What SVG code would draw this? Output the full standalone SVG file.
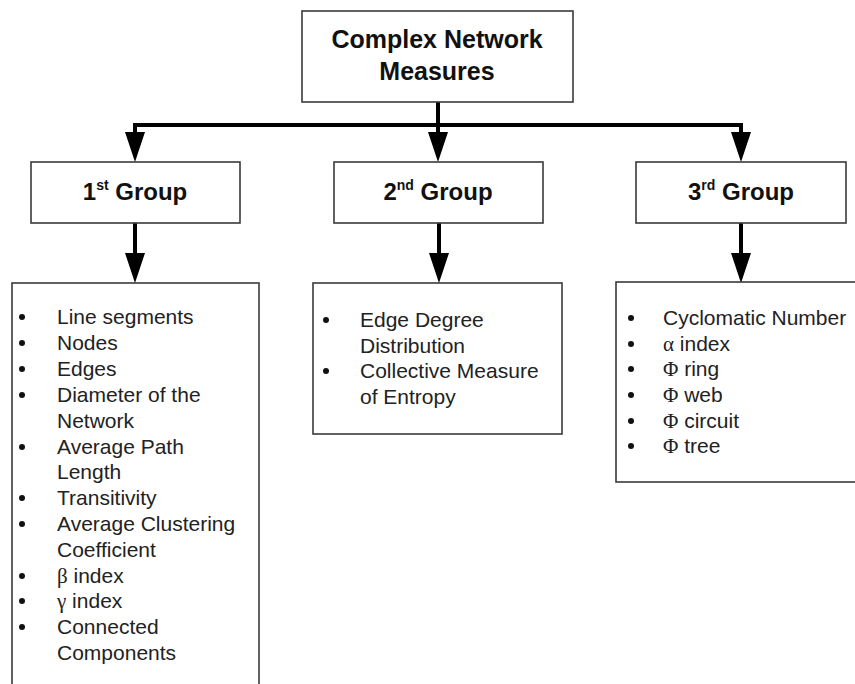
<svg xmlns="http://www.w3.org/2000/svg" width="855" height="684" viewBox="0 0 855 684">
  <style>
    .box { fill: #ffffff; stroke: #3a3a3a; stroke-width: 1.6; }
    .shadow { fill: none; stroke: #9a9a9a; stroke-width: 1.2; }
    .title { font-family: "Liberation Sans", Arial, sans-serif; font-weight: bold; font-size: 25px; fill: #111; text-anchor: middle; }
    .grp { font-family: "Liberation Sans", Arial, sans-serif; font-weight: bold; font-size: 24px; fill: #111; text-anchor: middle; }
    .sup { font-size: 14px; }
    .item { font-family: "Liberation Sans", Arial, sans-serif; font-size: 21px; fill: #222; }
    .bul { fill: #111; }
    .conn { fill: none; stroke: #000; stroke-width: 4; }
  </style>
  <defs>
    <marker id="ah" markerUnits="userSpaceOnUse" markerWidth="32" markerHeight="24" refX="0" refY="10" orient="auto" viewBox="0 0 32 20">
      <path d="M0,0 L30,10 L0,20 z" fill="#000"/>
    </marker>
  </defs>

  <rect width="855" height="684" fill="#ffffff"/>

  <g id="connectors">
    <path class="conn" d="M438,102 L438,125"/>
    <path class="conn" d="M133,125 L743,125"/>
    <path class="conn" d="M135,123 L135,132" marker-end="url(#ah)"/>
    <path class="conn" d="M438,123 L438,132" marker-end="url(#ah)"/>
    <path class="conn" d="M741,123 L741,132" marker-end="url(#ah)"/>
    <path class="conn" d="M135,223 L135,253" marker-end="url(#ah)"/>
    <path class="conn" d="M439,223 L439,253" marker-end="url(#ah)"/>
    <path class="conn" d="M741,223 L741,253" marker-end="url(#ah)"/>
  </g>

  <g id="root">
    <rect class="box" x="302" y="11" width="271" height="91"/>
    <text class="title" x="437" y="48">Complex Network</text>
    <text class="title" x="437" y="80">Measures</text>
  </g>

  <g id="group1">
    <rect class="box" x="31" y="162" width="209" height="61"/>
    <text class="grp" x="135" y="200">1<tspan class="sup" dy="-10">st</tspan><tspan dy="10"> Group</tspan></text>
  </g>

  <g id="group2">
    <rect class="box" x="334" y="162" width="209" height="61"/>
    <text class="grp" x="438" y="200">2<tspan class="sup" dy="-10">nd</tspan><tspan dy="10"> Group</tspan></text>
  </g>

  <g id="group3">
    <rect class="box" x="636" y="162" width="210" height="61"/>
    <text class="grp" x="741" y="200">3<tspan class="sup" dy="-10">rd</tspan><tspan dy="10"> Group</tspan></text>
  </g>

  <g id="list1">
    <rect class="box" x="12" y="283" width="247" height="420"/>
    <g class="bul">
      <circle cx="22" cy="317" r="3"/>
      <circle cx="22" cy="343" r="3"/>
      <circle cx="22" cy="369" r="3"/>
      <circle cx="22" cy="395" r="3"/>
      <circle cx="22" cy="447" r="3"/>
      <circle cx="22" cy="498" r="3"/>
      <circle cx="22" cy="524" r="3"/>
      <circle cx="22" cy="576" r="3"/>
      <circle cx="22" cy="601" r="3"/>
      <circle cx="22" cy="627" r="3"/>
    </g>
    <text class="item" x="57" y="324">Line segments</text>
    <text class="item" x="57" y="350">Nodes</text>
    <text class="item" x="57" y="376">Edges</text>
    <text class="item" x="57" y="402">Diameter of the</text>
    <text class="item" x="57" y="428">Network</text>
    <text class="item" x="57" y="454">Average Path</text>
    <text class="item" x="57" y="479">Length</text>
    <text class="item" x="57" y="505">Transitivity</text>
    <text class="item" x="57" y="531">Average Clustering</text>
    <text class="item" x="57" y="557">Coefficient</text>
    <text class="item" x="57" y="583"><tspan font-family="'Liberation Serif', serif">β</tspan> index</text>
    <text class="item" x="57" y="608"><tspan font-family="'Liberation Serif', serif">γ</tspan> index</text>
    <text class="item" x="57" y="634">Connected</text>
    <text class="item" x="57" y="660">Components</text>
  </g>

  <g id="list2">
    <rect class="box" x="313" y="283" width="249" height="151"/>
    <g class="bul">
      <circle cx="326" cy="320" r="3"/>
      <circle cx="326" cy="371" r="3"/>
    </g>
    <text class="item" x="360" y="327">Edge Degree</text>
    <text class="item" x="360" y="353">Distribution</text>
    <text class="item" x="360" y="378">Collective Measure</text>
    <text class="item" x="360" y="404">of Entropy</text>
  </g>

  <g id="list3">
    <rect class="box" x="616" y="282" width="260" height="200"/>
    <g class="bul">
      <circle cx="631" cy="318" r="3"/>
      <circle cx="631" cy="344" r="3"/>
      <circle cx="631" cy="369" r="3"/>
      <circle cx="631" cy="395" r="3"/>
      <circle cx="631" cy="421" r="3"/>
      <circle cx="631" cy="446" r="3"/>
    </g>
    <text class="item" x="663" y="325">Cyclomatic Number</text>
    <text class="item" x="663" y="351"><tspan font-family="'Liberation Serif', serif">α</tspan> index</text>
    <text class="item" x="663" y="376"><tspan font-family="'Liberation Serif', serif">Φ</tspan> ring</text>
    <text class="item" x="663" y="402"><tspan font-family="'Liberation Serif', serif">Φ</tspan> web</text>
    <text class="item" x="663" y="428"><tspan font-family="'Liberation Serif', serif">Φ</tspan> circuit</text>
    <text class="item" x="663" y="453"><tspan font-family="'Liberation Serif', serif">Φ</tspan> tree</text>
  </g>
</svg>
